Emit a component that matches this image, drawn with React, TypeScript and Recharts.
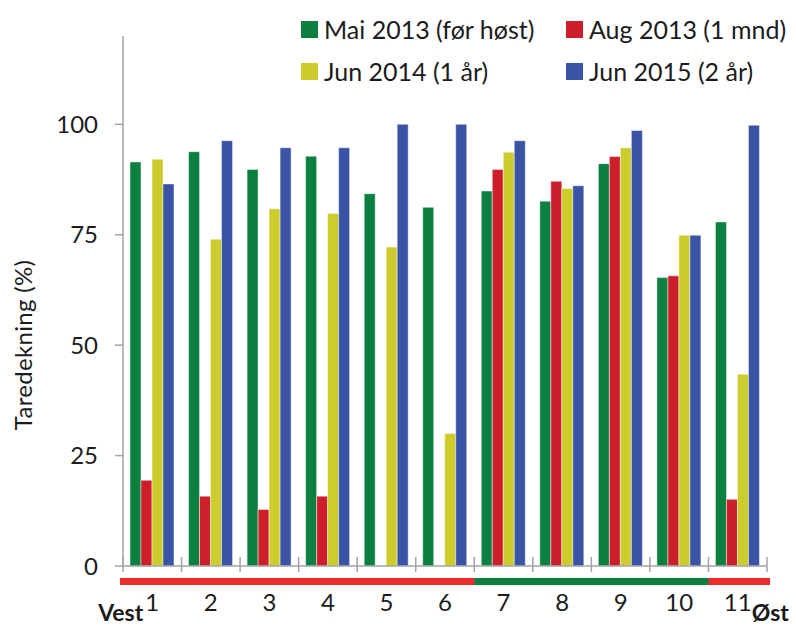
import { BarChart, Bar, XAxis, YAxis, Legend } from 'recharts';

const sites = ['1', '2', '3', '4', '5', '6', '7', '8', '9', '10', '11'];
const mai2013 = [91.5, 93.8, 89.8, 92.8, 84.3, 81.2, 84.9, 82.6, 91.1, 65.3, 77.9];
const aug2013 = [19.4, 15.8, 12.8, 15.8, null, null, 89.8, 87.1, 92.7, 65.7, 15.1];
const jun2014 = [92.1, 74.0, 80.9, 79.8, 72.2, 30.0, 93.7, 85.5, 94.7, 74.9, 43.4];
const jun2015 = [86.5, 96.3, 94.7, 94.7, 100, 100, 96.3, 86.1, 98.6, 74.9, 99.8];
// coloured strip under the axis, one entry per site
const siteGroup = ['r', 'r', 'r', 'r', 'r', 'r', 'g', 'g', 'g', 'g', 'r'];
const yTicks = [0, 25, 50, 75, 100];

const series = [
  { key: 'mai', name: 'Mai 2013 (før høst)', color: '#0b8040' },
  { key: 'aug', name: 'Aug 2013 (1 mnd)', color: '#cd1f2b' },
  { key: 'jun14', name: 'Jun 2014 (1 år)', color: '#cccc2c' },
  { key: 'jun15', name: 'Jun 2015 (2 år)', color: '#3a53a5' },
];

const data = sites.map((site, i) => ({
  site,
  mai: mai2013[i],
  aug: aug2013[i],
  jun14: jun2014[i],
  jun15: jun2015[i],
}));

const AXIS = '#a3a3a3';
const TEXT = '#1c1c1c';
const FONT = 'Lato, "DejaVu Sans", sans-serif';
const STRIP: Record<string, string> = { r: '#ec2b2b', g: '#0b8040' };

function SiteTick(props: any) {
  const { x, y, payload, index } = props;
  const half = payload?.offset ?? 29.3;
  const first = index === 0;
  const last = index === sites.length - 1;
  const left = x - half - (first ? 3 : 0);
  const right = x + half + (last ? 3 : 0.6);
  return (
    <g>
      <line x1={x - half} x2={x - half} y1={y - 9} y2={y + 6} stroke={AXIS} strokeWidth={1.5} />
      {last && <line x1={x + half} x2={x + half} y1={y - 9} y2={y + 6} stroke={AXIS} strokeWidth={1.5} />}
      <rect x={left} y={y + 12} width={right - left} height={7} fill={STRIP[siteGroup[index]]} />
      <text x={x} y={y + 45} textAnchor="middle" fontSize={24} fill={TEXT}>
        {payload.value}
      </text>
      {first && (
        <text x={x - 9} y={y + 55} textAnchor="end" fontSize={23} fontWeight={700} fill={TEXT}>
          Vest
        </text>
      )}
      {last && (
        <text x={x + 14} y={y + 55} textAnchor="start" fontSize={23} fontWeight={700} fill={TEXT}>
          Øst
        </text>
      )}
    </g>
  );
}

function LegendBox() {
  return (
    <div
      style={{
        display: 'grid',
        gridTemplateColumns: '265px 230px',
        fontFamily: FONT,
        fontSize: 25,
        color: TEXT,
      }}
    >
      {series.map((s) => (
        <div key={s.key} style={{ display: 'flex', alignItems: 'center', height: 42, whiteSpace: 'nowrap' }}>
          <span style={{ width: 17, height: 17, background: s.color, marginRight: 6, display: 'inline-block' }} />
          {s.name}
        </div>
      ))}
    </div>
  );
}

export default function App() {
  return (
    <div style={{ position: 'absolute', left: 0, top: 0, fontFamily: FONT }}>
      <BarChart
        width={796}
        height={626}
        data={data}
        margin={{ top: 36, right: 29, left: 0, bottom: 0 }}
        barGap={0}
      >
        <XAxis
          dataKey="site"
          height={60}
          interval={0}
          tickSize={0}
          tickMargin={0}
          tickLine={false}
          axisLine={{ stroke: AXIS, strokeWidth: 1.5 }}
          tick={<SiteTick />}
        />
        <YAxis
          width={123}
          domain={[0, 120]}
          ticks={yTicks}
          allowDataOverflow
          tickSize={8}
          tickMargin={17}
          axisLine={{ stroke: AXIS, strokeWidth: 1.5 }}
          tickLine={{ stroke: AXIS, strokeWidth: 1.5 }}
          tick={{ fill: TEXT, fontSize: 24 }}
          label={{
            content: () => (
              <text
                x={22}
                y={345}
                transform="rotate(-90 22 345)"
                textAnchor="middle"
                dominantBaseline="central"
                fontSize={24}
                letterSpacing={0.3}
                fill={TEXT}
              >
                Taredekning (%)
              </text>
            ),
          }}
        />
        <Legend
          layout="vertical"
          align="center"
          verticalAlign="middle"
          wrapperStyle={{ top: 8, left: 301, width: 495 }}
          content={<LegendBox />}
        />
        {series.map((s) => (
          <Bar
            key={s.key}
            dataKey={s.key}
            name={s.name}
            fill={s.color}
            stroke="rgba(255,255,255,0.45)"
            strokeWidth={1}
            barSize={11}
            isAnimationActive={false}
          />
        ))}
      </BarChart>
    </div>
  );
}
